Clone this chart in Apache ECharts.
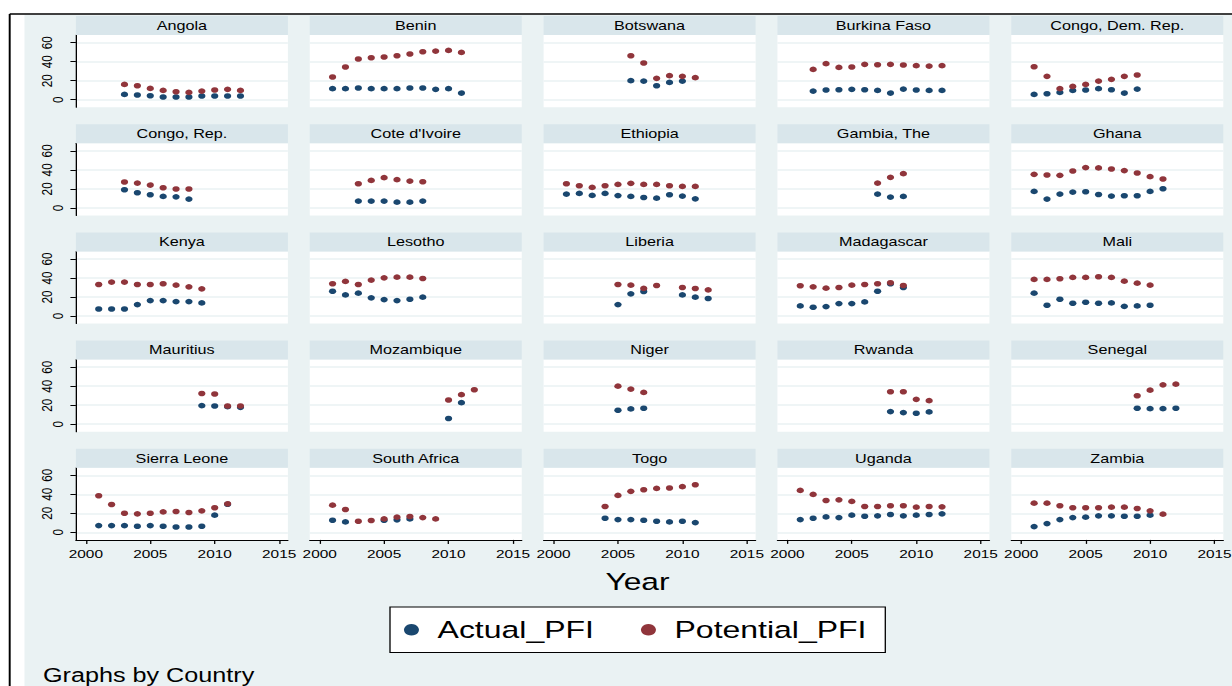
<!DOCTYPE html>
<html>
<head>
<meta charset="utf-8">
<title>Actual vs Potential PFI by Country</title>
<script src="https://cdn.jsdelivr.net/npm/echarts@6/dist/echarts.min.js"></script>
<style>
  html, body { margin: 0; padding: 0; background: #fff; overflow: hidden; }
  #chart { height: 686px; transform-origin: 0 0; }
</style>
</head>
<body>
<div id="chart"></div>
<script>
const _ = null;

const countries = [
  'Angola', 'Benin', 'Botswana', 'Burkina Faso', 'Congo, Dem. Rep.',
  'Congo, Rep.', "Cote d'Ivoire", 'Ethiopia', 'Gambia, The', 'Ghana',
  'Kenya', 'Lesotho', 'Liberia', 'Madagascar', 'Mali',
  'Mauritius', 'Mozambique', 'Niger', 'Rwanda', 'Senegal',
  'Sierra Leone', 'South Africa', 'Togo', 'Uganda', 'Zambia'
];

const years = [2001, 2002, 2003, 2004, 2005, 2006, 2007, 2008, 2009, 2010, 2011, 2012];

// one row per country, one column per year (2001-2012)
const actualPFI = [
  [_, _, 5.6, 4.9, 4.2, 2.8, 2.8, 2.8, 3.9, 3.9, 3.9, 3.9],
  [11.6, 11.6, 12.3, 11.6, 11.6, 11.6, 12.3, 12.3, 10.9, 11.6, 7.0, _],
  [_, _, _, _, _, 20.0, 19.6, 14.7, 18.2, 19.6, _, _],
  [_, 9.1, 10.2, 10.5, 10.9, 10.5, 9.8, 7.0, 11.2, 10.2, 9.8, 9.8],
  [5.6, 6.3, 7.7, 9.8, 10.2, 11.6, 10.5, 7.0, 11.2, _, _, _],
  [_, _, 19.1, 15.9, 13.8, 12.0, 11.6, 9.2, _, _, _, _],
  [_, _, 7.1, 7.1, 7.1, 6.0, 6.0, 7.1, _, _, _, _],
  [14.5, 15.2, 13.1, 15.2, 12.9, 12.0, 10.9, 10.2, 13.8, 12.4, 9.5, _],
  [_, _, _, _, _, _, 14.5, 11.3, 12.0, _, _, _],
  [17.3, 9.2, 14.5, 16.6, 16.9, 14.1, 12.4, 12.7, 12.7, 17.3, 20.1, _],
  [7.4, 7.4, 7.4, 12.0, 16.2, 16.2, 15.2, 15.2, 13.8, _, _, _],
  [26.1, 22.2, 24.0, 19.1, 17.3, 16.2, 17.6, 19.8, _, _, _, _],
  [_, _, _, _, 12.0, 23.3, 25.8, _, _, 22.2, 19.8, 18.4],
  [10.6, 9.2, 9.9, 13.1, 13.1, 14.8, 26.1, 33.9, 30.0, _, _, _],
  [24.0, 11.3, 17.6, 13.4, 14.5, 13.4, 13.8, 10.2, 10.6, 11.3, _, _],
  [_, _, _, _, _, _, _, _, 19.5, 19.1, 18.4, 17.7],
  [_, _, _, _, _, _, _, _, _, 5.9, 22.6, _],
  [_, _, _, _, 14.6, 16.0, 16.7, _, _, _, _, _],
  [_, _, _, _, _, _, _, 13.2, 12.2, 11.5, 12.9, _],
  [_, _, _, _, _, _, _, _, 16.7, 16.3, 16.3, 16.7],
  [7.1, 7.1, 7.1, 6.4, 7.1, 6.4, 5.6, 5.6, 6.4, 18.0, 29.5, _],
  [12.7, 10.9, _, _, 12.7, 13.1, 14.1, _, _, _, _, _],
  [_, _, _, 14.8, 13.4, 13.4, 12.7, 11.6, 10.9, 11.6, 10.2, _],
  [13.4, 14.8, 16.2, 15.5, 18.0, 16.9, 17.3, 18.7, 17.3, 18.0, 18.7, 19.4],
  [6.0, 9.2, 13.4, 15.5, 15.9, 17.3, 17.3, 16.9, 16.9, 18.0, _, _]
];

const potentialPFI = [
  [_, _, 16.1, 14.7, 11.9, 9.8, 8.4, 7.7, 9.1, 10.2, 10.9, 9.8],
  [23.9, 34.4, 42.8, 44.2, 44.9, 46.3, 48.1, 50.5, 51.2, 51.9, 49.8, _],
  [_, _, _, _, _, 46.3, 38.6, 22.5, 25.3, 24.6, 23.2, _],
  [_, 31.9, 37.9, 34.0, 34.4, 37.2, 36.8, 37.2, 36.5, 35.8, 35.4, 35.8],
  [34.7, 24.6, 11.6, 14.0, 16.1, 19.6, 21.4, 24.6, 26.0, _, _, _],
  [_, _, 27.2, 26.1, 24.0, 21.2, 19.8, 19.8, _, _, _, _],
  [_, _, 25.4, 28.9, 31.8, 29.7, 28.2, 27.5, _, _, _, _],
  [25.4, 23.3, 21.5, 23.3, 24.7, 25.8, 24.7, 24.7, 23.3, 22.6, 22.6, _],
  [_, _, _, _, _, _, 26.1, 32.1, 36.0, _, _, _],
  [35.3, 34.6, 34.2, 38.8, 42.4, 42.0, 40.9, 39.2, 36.7, 32.8, 30.4, _],
  [33.2, 35.7, 35.7, 33.2, 33.2, 33.9, 32.5, 30.7, 28.6, _, _, _],
  [33.9, 36.4, 33.2, 37.8, 40.2, 40.9, 40.9, 39.5, _, _, _, _],
  [_, _, _, _, 33.2, 32.5, 29.0, 32.1, _, 30.0, 28.9, 27.5],
  [31.8, 30.7, 29.3, 30.0, 32.5, 33.2, 33.9, 35.0, 32.1, _, _, _],
  [38.5, 38.5, 39.2, 40.6, 40.6, 41.3, 40.6, 36.7, 34.6, 32.5, _, _],
  [_, _, _, _, _, _, _, _, 32.3, 31.7, 19.1, 19.1],
  [_, _, _, _, _, _, _, _, _, 25.4, 31.0, 36.2],
  [_, _, _, _, 40.0, 36.9, 33.4, _, _, _, _, _],
  [_, _, _, _, _, _, _, 34.1, 34.1, 26.1, 24.7, _],
  [_, _, _, _, _, _, _, _, 29.9, 35.8, 41.4, 42.1],
  [38.5, 29.3, 20.1, 19.4, 20.1, 21.5, 21.9, 20.8, 22.6, 25.8, 30.0, _],
  [28.6, 24.0, 11.6, 12.4, 14.1, 15.9, 16.6, 15.5, 14.1, _, _, _],
  [_, _, _, 27.2, 38.8, 43.1, 44.8, 46.2, 46.6, 48.0, 50.1, _],
  [44.1, 39.9, 33.5, 34.2, 32.5, 27.2, 27.2, 27.9, 27.9, 26.5, 27.2, 26.8],
  [30.7, 30.7, 27.9, 25.8, 25.8, 25.8, 26.5, 26.5, 25.1, 22.6, 19.1, _]
];

const yearTicks = [2000, 2005, 2010, 2015];
const pfiTicks = [0, 20, 40, 60];
const seriesNames = ['Actual_PFI', 'Potential_PFI'];

// ---- page geometry (figure is drawn narrow and widened horizontally) ----
const PAGE_W = 1232, PAGE_H = 686;
const DRAW_W = 944;
const SX = PAGE_W / DRAW_W;
const px = v => v / SX;               // page x -> drawing x

const el = document.getElementById('chart');
el.style.width = DRAW_W + 'px';
el.style.transform = 'scaleX(' + SX + ')';

const FONT = '"Liberation Sans", Arial, Helvetica, sans-serif';
const NAVY = '#1A476F';
const MAROON = '#90353B';
const REGION_BG = '#EAF2F3';
const STRIP_BG = '#D9E6EB';
const GRID_LINE = '#EAF2F3';

const COLS = 5;
const PANEL_X0 = 75.9, PANEL_DX = 233.85, PANEL_W = 212;
const ZERO_Y0 = 99.7, ROW_DY = 108.15;
const Y_MIN = -8, Y_MAX = 68, PX_PER_UNIT = 0.95;
const X_MIN = 1999.23, X_MAX = 2015.68;
const STRIP_H = 19;
const nRows = Math.ceil(countries.length / COLS);

const grids = [], xAxes = [], yAxes = [], series = [], graphics = [];

// region background and outer frame
graphics.push({
  type: 'rect', z: -100, silent: true,
  shape: { x: px(24.5), y: 14.7, width: DRAW_W, height: PAGE_H },
  style: { fill: REGION_BG }
});
graphics.push({
  type: 'line', z: 50, silent: true,
  shape: { x1: px(9.7), y1: 14, x2: DRAW_W, y2: 14 },
  style: { stroke: '#000', lineWidth: 1.4 }
});
graphics.push({
  type: 'line', z: 50, silent: true,
  shape: { x1: px(9.7), y1: 14, x2: px(9.7), y2: PAGE_H },
  style: { stroke: '#000', lineWidth: 1.5 }
});

countries.forEach((name, i) => {
  const r = Math.floor(i / COLS), c = i % COLS;
  const zeroY = ZERO_Y0 + r * ROW_DY;
  const top = zeroY - Y_MAX * PX_PER_UNIT;
  const height = (Y_MAX - Y_MIN) * PX_PER_UNIT;
  const left = px(PANEL_X0 + c * PANEL_DX);
  const width = px(PANEL_W);
  const bottomRow = r === nRows - 1;
  const firstCol = c === 0;

  grids.push({
    left, top, width, height,
    show: true, backgroundColor: '#fff', borderWidth: 0,
    containLabel: false, outerBoundsMode: 'none'
  });

  xAxes.push({
    type: 'value', gridIndex: i, min: X_MIN, max: X_MAX,
    show: bottomRow,
    axisLine: { show: true, onZero: false, lineStyle: { color: '#000', width: 1 } },
    axisTick: { show: true, customValues: yearTicks, length: 4, lineStyle: { color: '#000', width: 1 } },
    axisLabel: {
      show: true, customValues: yearTicks, margin: 8, fontSize: 11.8, color: '#000', fontFamily: FONT,
      formatter: v => String(v)
    },
    splitLine: { show: false }
  });

  const yIndex = yAxes.length;
  yAxes.push({
    type: 'value', gridIndex: i, min: Y_MIN, max: Y_MAX, position: 'left',
    axisLine: { show: firstCol, onZero: false, lineStyle: { color: '#000', width: 1 } },
    axisTick: { show: firstCol, customValues: pfiTicks, length: 4.2, lineStyle: { color: '#000', width: 1 } },
    axisLabel: {
      show: firstCol, customValues: pfiTicks.filter(v => v !== 0), rotate: 90,
      margin: 16.5, fontSize: 11.8, color: '#000', fontFamily: FONT
    },
    splitLine: { show: true, lineStyle: { color: GRID_LINE, width: 1.5 } }
  });
  if (firstCol) {
    // the zero label sits closer to the axis than the others
    yAxes.push({
      type: 'value', gridIndex: i, min: Y_MIN, max: Y_MAX, position: 'left',
      axisLine: { show: false }, axisTick: { show: false }, splitLine: { show: false },
      axisLabel: {
        show: true, customValues: [0], rotate: 90,
        margin: 7.4, fontSize: 11.8, color: '#000', fontFamily: FONT
      }
    });
  }

  [actualPFI, potentialPFI].forEach((table, s) => {
    const data = [];
    years.forEach((yr, k) => {
      if (table[i][k] !== null) data.push([yr, table[i][k]]);
    });
    series.push({
      type: 'scatter', name: seriesNames[s],
      xAxisIndex: i, yAxisIndex: yIndex,
      data, symbol: 'circle', symbolSize: 5.6,
      itemStyle: { color: s === 0 ? NAVY : MAROON, borderWidth: 0, opacity: 1 },
      z: 2 + s, silent: true,
      emphasis: { disabled: true }
    });
  });

  // panel strip with the country name
  graphics.push({
    type: 'rect', z: 10, silent: true,
    shape: { x: left, y: top - STRIP_H, width, height: STRIP_H },
    style: { fill: STRIP_BG }
  });
  graphics.push({
    type: 'text', z: 11, silent: true,
    x: left + width / 2, y: top - STRIP_H / 2,
    style: {
      text: name, fill: '#000', fontSize: 12.4, fontFamily: FONT,
      align: 'center', verticalAlign: 'middle'
    }
  });
});

graphics.push({
  type: 'text', z: 11, silent: true,
  x: px(637.5), y: 581,
  style: { text: 'Year', fill: '#000', fontSize: 24.3, fontFamily: FONT, align: 'center', verticalAlign: 'middle' }
});
graphics.push({
  type: 'text', z: 11, silent: true,
  x: px(43), y: 676,
  style: { text: 'Graphs by Country', fill: '#000', fontSize: 19.3, fontFamily: FONT, align: 'left', verticalAlign: 'middle' }
});

const chart = echarts.init(el, null, { renderer: 'svg' });
chart.setOption({
  animation: false,
  backgroundColor: '#fff',
  grid: grids,
  xAxis: xAxes,
  yAxis: yAxes,
  series,
  graphic: graphics,
  tooltip: { show: false },
  legend: {
    data: seriesNames,
    left: px(390), top: 607,
    orient: 'horizontal',
    backgroundColor: '#fff', borderColor: '#000', borderWidth: 1, borderRadius: 0,
    padding: [10.3, 14.4, 10.3, 10.7],
    itemWidth: 20, itemHeight: 11.5, itemGap: 36,
    icon: 'circle', selectedMode: false,
    itemStyle: { borderWidth: 0 },
    textStyle: { fontSize: 24.5, color: '#000', fontFamily: FONT, padding: [0, 0, 0, 5] }
  }
});
</script>
</body>
</html>
